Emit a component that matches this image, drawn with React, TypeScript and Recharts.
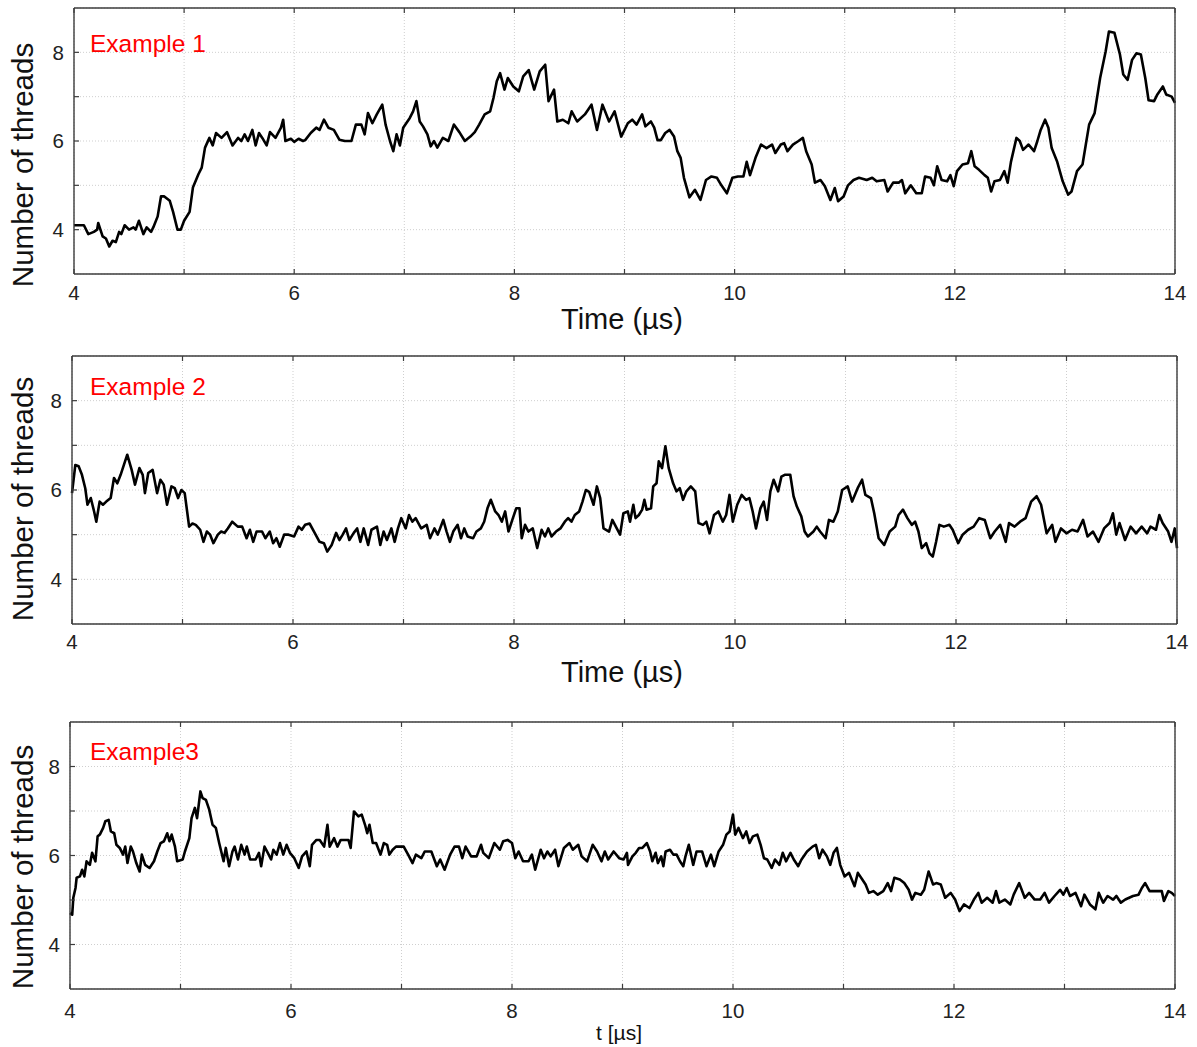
import { LineChart, Line, XAxis, YAxis, CartesianGrid } from 'recharts';

// Example 1
const time1 = [
  4.0, 4.09, 4.13, 4.18, 4.21, 4.22, 4.26, 4.29, 4.32, 4.35, 4.38, 4.41, 4.43, 4.46, 4.5, 4.54, 4.56, 4.59, 4.63, 4.66,
  4.7, 4.72, 4.76, 4.79, 4.82, 4.87, 4.9, 4.94, 4.97, 5.0, 5.05, 5.08, 5.13, 5.16, 5.19, 5.23, 5.26, 5.29, 5.34, 5.39,
  5.44, 5.49, 5.52, 5.55, 5.58, 5.62, 5.65, 5.68, 5.71, 5.75, 5.78, 5.83, 5.88, 5.9, 5.92, 5.97, 6.0, 6.04, 6.08, 6.1,
  6.15, 6.2, 6.23, 6.27, 6.31, 6.36, 6.41, 6.46, 6.52, 6.56, 6.61, 6.64, 6.67, 6.71, 6.75, 6.8, 6.83, 6.87, 6.9, 6.93,
  6.96, 6.99, 7.05, 7.08, 7.11, 7.14, 7.17, 7.21, 7.24, 7.27, 7.3, 7.35, 7.4, 7.45, 7.5, 7.55, 7.6, 7.64, 7.68, 7.73,
  7.78, 7.81, 7.84, 7.87, 7.91, 7.94, 7.99, 8.04, 8.08, 8.13, 8.18, 8.23, 8.28, 8.31, 8.36, 8.39, 8.44, 8.49, 8.52, 8.57,
  8.64, 8.7, 8.75, 8.8, 8.86, 8.91, 8.97, 9.03, 9.07, 9.11, 9.16, 9.19, 9.24, 9.27, 9.3, 9.33, 9.37, 9.41, 9.45, 9.48,
  9.51, 9.54, 9.59, 9.64, 9.69, 9.74, 9.79, 9.84, 9.88, 9.93, 9.98, 10.03, 10.08, 10.11, 10.14, 10.19, 10.24, 10.29, 10.34, 10.37,
  10.42, 10.45, 10.48, 10.53, 10.58, 10.62, 10.65, 10.7, 10.73, 10.78, 10.82, 10.87, 10.91, 10.94, 10.99, 11.03, 11.08, 11.13, 11.2, 11.25,
  11.29, 11.36, 11.39, 11.44, 11.49, 11.52, 11.55, 11.6, 11.65, 11.7, 11.73, 11.78, 11.81, 11.84, 11.88, 11.93, 11.96, 11.99, 12.02, 12.07,
  12.12, 12.15, 12.18, 12.22, 12.27, 12.3, 12.33, 12.36, 12.41, 12.45, 12.48, 12.51, 12.56, 12.59, 12.62, 12.67, 12.72, 12.75, 12.78, 12.82,
  12.85, 12.88, 12.93, 12.98, 13.03, 13.06, 13.11, 13.16, 13.19, 13.22, 13.27, 13.32, 13.37, 13.4, 13.45, 13.5, 13.53, 13.57, 13.61, 13.65,
  13.69, 13.73, 13.76, 13.81, 13.84, 13.89, 13.92, 13.97, 14.0,
];
const threads1 = [
  4.1, 4.1, 3.9, 3.95, 4.0, 4.15, 3.85, 3.8, 3.62, 3.75, 3.72, 3.95, 3.9, 4.1, 4.0, 4.05, 4.0, 4.2, 3.9, 4.05,
  3.95, 4.05, 4.3, 4.75, 4.75, 4.65, 4.4, 4.0, 4.0, 4.2, 4.4, 4.95, 5.25, 5.4, 5.85, 6.07, 5.9, 6.18, 6.07, 6.2,
  5.9, 6.07, 6.0, 6.15, 6.0, 6.25, 5.9, 6.18, 6.07, 5.9, 6.2, 6.07, 6.3, 6.48, 6.0, 6.05, 5.98, 6.05, 6.0, 6.02,
  6.18, 6.3, 6.25, 6.48, 6.3, 6.25, 6.03, 6.0, 6.0, 6.37, 6.37, 6.15, 6.63, 6.4, 6.6, 6.82, 6.37, 6.0, 5.77, 6.15,
  5.9, 6.3, 6.52, 6.67, 6.9, 6.44, 6.33, 6.15, 5.88, 6.0, 5.85, 6.07, 6.0, 6.37, 6.2, 6.0, 6.1, 6.2, 6.37, 6.6,
  6.67, 6.97, 7.35, 7.53, 7.16, 7.42, 7.23, 7.12, 7.46, 7.6, 7.16, 7.57, 7.72, 6.9, 7.16, 6.44, 6.48, 6.4, 6.67, 6.44,
  6.6, 6.82, 6.25, 6.82, 6.44, 6.67, 6.1, 6.4, 6.48, 6.37, 6.6, 6.33, 6.44, 6.3, 6.02, 6.02, 6.18, 6.25, 6.1, 5.77,
  5.62, 5.17, 4.73, 4.9, 4.67, 5.12, 5.2, 5.17, 5.0, 4.82, 5.17, 5.2, 5.2, 5.53, 5.23, 5.62, 5.92, 5.84, 5.92, 5.73,
  5.92, 5.95, 5.77, 5.92, 6.0, 6.07, 5.77, 5.47, 5.06, 5.12, 4.98, 4.67, 4.94, 4.64, 4.75, 5.0, 5.12, 5.17, 5.12, 5.17,
  5.09, 5.12, 4.86, 5.06, 5.06, 5.12, 4.82, 5.0, 4.82, 4.82, 5.2, 5.17, 5.0, 5.43, 5.12, 5.09, 5.23, 4.98, 5.32, 5.47,
  5.5, 5.77, 5.43, 5.35, 5.23, 5.17, 4.86, 5.09, 5.12, 5.32, 5.06, 5.53, 6.07, 6.0, 5.8, 5.92, 5.77, 6.0, 6.25, 6.48,
  6.3, 5.84, 5.53, 5.09, 4.79, 4.86, 5.32, 5.47, 5.92, 6.37, 6.63, 7.42, 8.02, 8.47, 8.44, 7.95, 7.5, 7.38, 7.83, 7.98,
  7.95, 7.42, 6.92, 6.9, 7.05, 7.23, 7.05, 7.0, 6.86,
];

// Example 2
const time2 = [
  4.0, 4.03, 4.06, 4.09, 4.12, 4.14, 4.17, 4.2, 4.22, 4.25, 4.28, 4.31, 4.35, 4.38, 4.41, 4.44, 4.48, 4.5, 4.54, 4.57,
  4.61, 4.64, 4.66, 4.69, 4.73, 4.77, 4.8, 4.83, 4.86, 4.9, 4.93, 4.96, 4.99, 5.02, 5.06, 5.09, 5.12, 5.16, 5.19, 5.22,
  5.25, 5.28, 5.32, 5.35, 5.38, 5.41, 5.45, 5.5, 5.54, 5.58, 5.61, 5.64, 5.67, 5.72, 5.75, 5.79, 5.82, 5.85, 5.88, 5.92,
  5.96, 6.01, 6.05, 6.08, 6.11, 6.15, 6.19, 6.24, 6.28, 6.31, 6.35, 6.39, 6.42, 6.45, 6.48, 6.51, 6.55, 6.58, 6.61, 6.64,
  6.68, 6.71, 6.76, 6.79, 6.82, 6.85, 6.89, 6.92, 6.95, 6.98, 7.02, 7.05, 7.08, 7.11, 7.16, 7.21, 7.24, 7.28, 7.31, 7.36,
  7.39, 7.42, 7.45, 7.49, 7.52, 7.55, 7.58, 7.63, 7.66, 7.7, 7.73, 7.76, 7.79, 7.83, 7.86, 7.89, 7.92, 7.95, 7.99, 8.02,
  8.05, 8.07, 8.1, 8.13, 8.17, 8.21, 8.25, 8.28, 8.31, 8.34, 8.38, 8.42, 8.46, 8.49, 8.52, 8.55, 8.59, 8.62, 8.65, 8.68,
  8.72, 8.75, 8.78, 8.81, 8.86, 8.89, 8.93, 8.96, 8.99, 9.03, 9.05, 9.08, 9.1, 9.13, 9.16, 9.18, 9.2, 9.24, 9.26, 9.29,
  9.31, 9.34, 9.37, 9.4, 9.44, 9.47, 9.5, 9.53, 9.56, 9.6, 9.64, 9.67, 9.71, 9.74, 9.77, 9.81, 9.85, 9.89, 9.92, 9.95,
  9.98, 10.02, 10.06, 10.1, 10.13, 10.16, 10.19, 10.23, 10.26, 10.29, 10.32, 10.35, 10.39, 10.42, 10.45, 10.5, 10.53, 10.56, 10.6, 10.63,
  10.66, 10.71, 10.74, 10.77, 10.82, 10.85, 10.89, 10.93, 10.97, 11.02, 11.06, 11.11, 11.15, 11.18, 11.23, 11.26, 11.3, 11.35, 11.4, 11.45,
  11.48, 11.52, 11.56, 11.6, 11.63, 11.66, 11.69, 11.73, 11.76, 11.79, 11.82, 11.85, 11.89, 11.94, 11.97, 12.02, 12.06, 12.11, 12.16, 12.21,
  12.26, 12.31, 12.35, 12.4, 12.45, 12.48, 12.53, 12.58, 12.63, 12.68, 12.73, 12.77, 12.82, 12.87, 12.9, 12.95, 13.0, 13.05, 13.1, 13.15,
  13.19, 13.24, 13.29, 13.34, 13.39, 13.42, 13.45, 13.48, 13.53, 13.58, 13.63, 13.68, 13.73, 13.76, 13.81, 13.84, 13.87, 13.92, 13.95, 13.98,
  14.0,
];
const threads2 = [
  5.93, 6.56, 6.53, 6.34, 6.04, 5.67, 5.82, 5.52, 5.29, 5.74, 5.67, 5.74, 5.82, 6.27, 6.15, 6.34, 6.64, 6.79, 6.45, 6.12,
  6.49, 6.34, 5.93, 6.38, 6.45, 5.93, 6.23, 6.12, 5.67, 6.08, 6.04, 5.82, 6.0, 5.93, 5.18, 5.25, 5.22, 5.11, 4.84, 5.07,
  5.0, 4.81, 5.0, 5.07, 5.04, 5.14, 5.29, 5.18, 5.18, 4.92, 5.11, 4.84, 5.07, 5.07, 4.92, 5.07, 4.81, 4.92, 4.73, 5.0,
  5.0, 4.96, 5.18, 5.11, 5.22, 5.25, 5.07, 4.84, 4.81, 4.62, 4.77, 5.04, 4.88, 5.0, 5.14, 4.88, 5.04, 5.14, 4.84, 5.14,
  4.77, 5.11, 5.18, 4.77, 5.07, 4.88, 5.14, 4.84, 5.14, 5.37, 5.14, 5.44, 5.29, 5.37, 5.14, 5.22, 4.92, 5.14, 5.0, 5.33,
  5.07, 4.84, 5.07, 5.22, 4.92, 5.14, 4.96, 4.92, 5.07, 5.14, 5.29, 5.59, 5.78, 5.52, 5.44, 5.29, 5.52, 5.07, 5.37, 5.59,
  5.59, 4.92, 5.22, 5.07, 5.14, 4.7, 5.11, 4.96, 5.14, 4.96, 5.07, 5.14, 5.29, 5.37, 5.29, 5.44, 5.52, 5.74, 6.0, 5.96,
  5.67, 6.08, 5.82, 5.14, 5.07, 5.33, 5.14, 5.0, 5.48, 5.52, 5.29, 5.67, 5.37, 5.44, 5.56, 5.78, 5.56, 5.59, 6.08, 6.15,
  6.64, 6.49, 6.98, 6.49, 6.15, 5.97, 6.04, 5.78, 5.97, 6.08, 5.97, 5.26, 5.22, 5.29, 5.03, 5.44, 5.52, 5.29, 5.44, 5.89,
  5.29, 5.67, 5.89, 5.78, 5.82, 5.52, 5.14, 5.59, 5.74, 5.33, 5.97, 6.23, 5.97, 6.3, 6.34, 6.34, 5.86, 5.63, 5.41, 5.07,
  4.96, 5.07, 5.18, 5.07, 4.92, 5.33, 5.29, 5.52, 6.0, 6.08, 5.74, 6.04, 6.23, 5.89, 5.82, 5.48, 4.92, 4.77, 5.07, 5.18,
  5.44, 5.56, 5.37, 5.22, 5.29, 5.07, 4.7, 4.81, 4.58, 4.51, 4.84, 5.22, 5.18, 5.22, 5.11, 4.81, 5.0, 5.11, 5.18, 5.37,
  5.33, 4.92, 5.07, 5.22, 4.84, 5.26, 5.18, 5.29, 5.37, 5.74, 5.86, 5.67, 5.03, 5.22, 4.84, 5.14, 5.03, 5.11, 5.07, 5.33,
  4.96, 5.07, 4.84, 5.14, 5.26, 5.48, 5.0, 5.26, 4.88, 5.18, 5.03, 5.18, 5.03, 5.18, 5.11, 5.44, 5.26, 5.07, 4.84, 5.14,
  4.7,
];

// Example3
const time3 = [
  4.0, 4.02, 4.03, 4.05, 4.06, 4.09, 4.11, 4.13, 4.15, 4.18, 4.2, 4.23, 4.25, 4.27, 4.3, 4.32, 4.35, 4.37, 4.4, 4.42,
  4.45, 4.48, 4.5, 4.52, 4.55, 4.57, 4.6, 4.63, 4.65, 4.68, 4.72, 4.76, 4.79, 4.82, 4.85, 4.88, 4.9, 4.92, 4.95, 4.97,
  5.02, 5.04, 5.08, 5.1, 5.13, 5.15, 5.18, 5.2, 5.23, 5.26, 5.29, 5.32, 5.35, 5.39, 5.41, 5.44, 5.47, 5.49, 5.52, 5.55,
  5.58, 5.6, 5.63, 5.68, 5.71, 5.73, 5.76, 5.79, 5.82, 5.84, 5.87, 5.9, 5.93, 5.96, 5.99, 6.03, 6.07, 6.1, 6.14, 6.17,
  6.19, 6.23, 6.26, 6.3, 6.33, 6.35, 6.39, 6.42, 6.45, 6.52, 6.54, 6.57, 6.61, 6.64, 6.67, 6.69, 6.71, 6.74, 6.77, 6.81,
  6.84, 6.87, 6.89, 6.92, 6.95, 7.02, 7.06, 7.1, 7.13, 7.18, 7.21, 7.27, 7.32, 7.35, 7.39, 7.44, 7.48, 7.52, 7.55, 7.58,
  7.63, 7.68, 7.72, 7.74, 7.79, 7.84, 7.89, 7.92, 7.96, 8.0, 8.03, 8.06, 8.1, 8.15, 8.18, 8.21, 8.26, 8.29, 8.32, 8.35,
  8.39, 8.42, 8.47, 8.52, 8.55, 8.6, 8.63, 8.68, 8.73, 8.77, 8.81, 8.84, 8.87, 8.92, 8.97, 9.01, 9.04, 9.05, 9.09, 9.12,
  9.15, 9.18, 9.22, 9.25, 9.27, 9.3, 9.32, 9.35, 9.37, 9.39, 9.43, 9.46, 9.49, 9.52, 9.55, 9.57, 9.6, 9.64, 9.67, 9.72,
  9.76, 9.8, 9.83, 9.87, 9.91, 9.94, 9.97, 10.0, 10.02, 10.05, 10.09, 10.12, 10.15, 10.18, 10.22, 10.25, 10.28, 10.31, 10.35, 10.38,
  10.42, 10.45, 10.48, 10.52, 10.55, 10.59, 10.62, 10.67, 10.72, 10.75, 10.78, 10.81, 10.85, 10.88, 10.91, 10.94, 10.97, 11.01, 11.05, 11.1,
  11.13, 11.17, 11.2, 11.23, 11.27, 11.31, 11.36, 11.4, 11.43, 11.46, 11.51, 11.55, 11.59, 11.62, 11.65, 11.7, 11.73, 11.77, 11.81, 11.84,
  11.88, 11.92, 11.97, 12.01, 12.05, 12.09, 12.14, 12.18, 12.22, 12.25, 12.3, 12.35, 12.38, 12.41, 12.46, 12.51, 12.54, 12.59, 12.64, 12.68,
  12.73, 12.78, 12.82, 12.86, 12.91, 12.96, 12.99, 13.02, 13.05, 13.1, 13.15, 13.18, 13.23, 13.28, 13.31, 13.35, 13.39, 13.44, 13.47, 13.51,
  13.55, 13.62, 13.67, 13.7, 13.73, 13.77, 13.81, 13.88, 13.9, 13.94, 13.97, 14.0,
];
const threads3 = [
  4.71, 4.67, 5.05, 5.27, 5.5, 5.53, 5.68, 5.53, 5.87, 5.79, 6.06, 5.87, 6.43, 6.47, 6.62, 6.77, 6.8, 6.54, 6.5, 6.24,
  6.17, 6.02, 6.2, 5.83, 6.2, 6.09, 5.83, 5.64, 6.02, 5.79, 5.72, 5.87, 6.09, 6.28, 6.32, 6.5, 6.32, 6.47, 6.2, 5.87,
  5.91, 6.09, 6.39, 6.84, 7.07, 6.84, 7.44, 7.29, 7.25, 7.03, 6.69, 6.62, 6.28, 5.87, 6.17, 5.76, 6.09, 6.2, 5.91, 6.24,
  6.02, 6.2, 5.91, 5.91, 6.06, 5.76, 6.2, 6.06, 5.91, 6.13, 6.02, 6.28, 6.02, 6.24, 6.06, 5.94, 5.72, 5.98, 6.09, 5.76,
  6.24, 6.35, 6.35, 6.2, 6.69, 6.2, 6.39, 6.2, 6.35, 6.35, 6.17, 6.99, 6.88, 6.92, 6.69, 6.5, 6.69, 6.28, 6.28, 6.02,
  6.28, 6.24, 6.02, 6.13, 6.2, 6.2, 6.02, 5.83, 6.02, 5.94, 6.09, 6.09, 5.76, 5.91, 5.68, 6.02, 6.2, 6.2, 5.94, 6.2,
  5.98, 5.98, 6.24, 6.06, 5.94, 6.28, 6.13, 6.32, 6.35, 6.28, 5.94, 6.09, 5.87, 5.87, 6.02, 5.68, 6.13, 5.94, 6.09, 5.98,
  6.13, 5.76, 6.17, 6.28, 6.13, 6.24, 5.98, 5.87, 6.24, 6.09, 5.87, 6.09, 5.91, 6.09, 5.94, 5.91, 6.06, 5.79, 5.98, 6.06,
  6.17, 6.17, 6.28, 6.09, 5.87, 6.06, 5.83, 5.98, 5.76, 6.09, 6.13, 6.02, 6.02, 5.87, 5.76, 5.98, 6.24, 5.79, 6.09, 6.09,
  5.76, 6.02, 5.76, 6.09, 6.24, 6.47, 6.54, 6.92, 6.47, 6.62, 6.39, 6.54, 6.28, 6.43, 6.47, 6.24, 5.94, 5.91, 5.72, 5.91,
  5.79, 6.06, 5.87, 6.06, 5.91, 5.76, 5.91, 6.09, 6.2, 6.24, 5.94, 6.13, 5.98, 5.79, 6.06, 6.17, 5.79, 5.53, 5.61, 5.31,
  5.61, 5.46, 5.35, 5.16, 5.2, 5.12, 5.2, 5.38, 5.2, 5.5, 5.46, 5.38, 5.23, 5.01, 5.16, 5.12, 5.23, 5.64, 5.35, 5.38,
  5.35, 5.05, 5.16, 5.01, 4.75, 4.9, 4.82, 5.01, 5.16, 4.94, 5.05, 4.94, 5.2, 4.94, 5.01, 4.9, 5.12, 5.38, 5.05, 5.16,
  5.01, 5.01, 5.16, 4.94, 5.09, 5.23, 5.12, 5.27, 5.09, 5.16, 4.86, 5.12, 4.9, 4.79, 5.16, 4.94, 5.09, 5.01, 5.09, 4.94,
  5.01, 5.09, 5.12, 5.27, 5.38, 5.2, 5.2, 5.2, 4.98, 5.2, 5.16, 5.09,
];

const xTicks = [4, 5, 6, 7, 8, 9, 10, 11, 12, 13, 14];
const yTicks = [4, 5, 6, 7, 8];
const panelNames = ['Example 1', 'Example 2', 'Example3'];
const xTitles = ['Time (µs)', 'Time (µs)', 't [µs]'];
const yTitle = 'Number of threads';

const FONT = '"Liberation Sans", Arial, Helvetica, sans-serif';
const FRAME = '#3c3c3c';
const TM = 10; // tick margin handed to recharts
const TL = 5; // inward tick length
const AX = 20; // size given to every axis; taken back out of the margins
const TICK_FONT = 20.5;

const rows = (t: number[], v: number[]) => t.map((x, i) => ({ t: x, v: v[i] }));

const panels = [
  {
    data: rows(time1, threads1), top: 0, height: 340, left: 74, right: 1175, plotTop: 8, plotBottom: 274, labelGap: 19,
    xTitle: { x: 622, y: 319, size: 29 }, yTitleY: 165, note: 52,
  },
  {
    data: rows(time2, threads2), top: 340, height: 350, left: 72, right: 1177, plotTop: 356, plotBottom: 624, labelGap: 18,
    xTitle: { x: 622, y: 672, size: 29 }, yTitleY: 499, note: 395,
  },
  {
    data: rows(time3, threads3), top: 690, height: 357, left: 70, right: 1175, plotTop: 722, plotBottom: 989, labelGap: 22,
    xTitle: { x: 619, y: 1033, size: 21 }, yTitleY: 867, note: 760,
  },
];

const bottomTick = (gap: number) => (p: any) => {
  const axisY = p.y - TM;
  const v = p.payload.value;
  return (
    <g>
      <line x1={p.x} x2={p.x} y1={axisY} y2={axisY - TL} stroke={FRAME} strokeWidth={1.2} />
      {v % 2 === 0 && (
        <text x={p.x} y={axisY + gap} dy="0.35em" textAnchor="middle" fontSize={TICK_FONT} fill="#222" fontFamily={FONT}>
          {v}
        </text>
      )}
    </g>
  );
};

const topTick = (p: any) => {
  const axisY = p.y + TM;
  return <line x1={p.x} x2={p.x} y1={axisY} y2={axisY + TL} stroke={FRAME} strokeWidth={1.2} />;
};

const leftTick = (p: any) => {
  const axisX = p.x + TM;
  const v = p.payload.value;
  return (
    <g>
      <line x1={axisX} x2={axisX + TL} y1={p.y} y2={p.y} stroke={FRAME} strokeWidth={1.2} />
      {v % 2 === 0 && (
        <text x={axisX - 10} y={p.y} dy="0.35em" textAnchor="end" fontSize={TICK_FONT} fill="#222" fontFamily={FONT}>
          {v}
        </text>
      )}
    </g>
  );
};

const rightTick = (p: any) => {
  const axisX = p.x - TM;
  return <line x1={axisX} x2={axisX - TL} y1={p.y} y2={p.y} stroke={FRAME} strokeWidth={1.2} />;
};

function Panel({ cfg }: { cfg: (typeof panels)[number] }) {
  const margin = {
    top: cfg.plotTop - cfg.top - AX,
    bottom: cfg.top + cfg.height - cfg.plotBottom - AX,
    left: cfg.left - AX,
    right: 1197 - cfg.right - AX,
  };
  const axisLine = { stroke: FRAME, strokeWidth: 1.4 };
  return (
    <div style={{ position: 'absolute', left: 0, top: cfg.top }}>
      <LineChart width={1197} height={cfg.height} data={cfg.data} margin={margin}>
        <CartesianGrid stroke="#cfcfcf" strokeDasharray="1 2" />
        <XAxis
          dataKey="t" type="number" domain={[4, 14]} ticks={xTicks} interval={0} height={AX}
          tickSize={0} tickMargin={TM} axisLine={axisLine} tickLine={false} tick={bottomTick(cfg.labelGap)}
        />
        <XAxis
          xAxisId="top" orientation="top" dataKey="t" type="number" domain={[4, 14]} ticks={xTicks} interval={0} height={AX}
          tickSize={0} tickMargin={TM} axisLine={axisLine} tickLine={false} tick={topTick}
        />
        <YAxis
          type="number" domain={[3, 9]} ticks={yTicks} interval={0} width={AX}
          tickSize={0} tickMargin={TM} axisLine={axisLine} tickLine={false} tick={leftTick}
        />
        <YAxis
          yAxisId="right" orientation="right" type="number" domain={[3, 9]} ticks={yTicks} interval={0} width={AX}
          tickSize={0} tickMargin={TM} axisLine={axisLine} tickLine={false} tick={rightTick}
        />
        <Line
          type="linear" dataKey="v" stroke="#000" strokeWidth={2.6} strokeLinejoin="round"
          dot={false} activeDot={false} isAnimationActive={false}
        />
      </LineChart>
    </div>
  );
}

export default function App() {
  return (
    <div style={{ position: 'absolute', left: 0, top: 0, width: 1197, height: 1047, background: '#fff', fontFamily: FONT }}>
      {panels.map((p, i) => (
        <Panel key={i} cfg={p} />
      ))}
      <svg width={1197} height={1047} style={{ position: 'absolute', left: 0, top: 0, pointerEvents: 'none' }}>
        {panels.map((p, i) => (
          <g key={i} fontFamily={FONT}>
            <text x={90} y={p.note} fontSize={24.5} fill="#ff0000">
              {panelNames[i]}
            </text>
            <text x={p.xTitle.x} y={p.xTitle.y} dy="0.35em" textAnchor="middle" fontSize={p.xTitle.size} fill="#111">
              {xTitles[i]}
            </text>
            <text
              x={23} y={p.yTitleY} dy="0.35em" textAnchor="middle" fontSize={29.5} fill="#111"
              transform={`rotate(-90 23 ${p.yTitleY})`}
            >
              {yTitle}
            </text>
          </g>
        ))}
      </svg>
    </div>
  );
}
